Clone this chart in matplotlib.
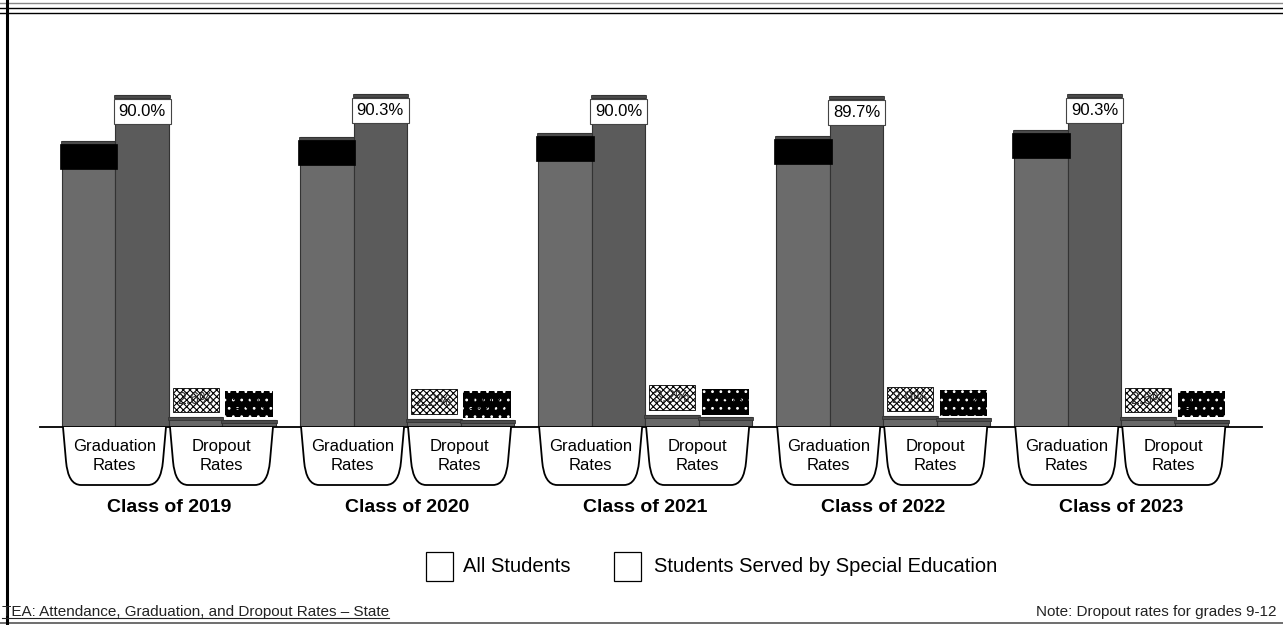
import matplotlib.pyplot as plt
import numpy as np
from matplotlib.path import Path
from matplotlib.patches import PathPatch, Rectangle
from matplotlib.lines import Line2D

plt.rcParams['font.family'] = ['Liberation Sans', 'DejaVu Sans']
plt.rcParams['hatch.linewidth'] = 0.8

# graduation / dropout rates, percent
classes = ["Class of 2019", "Class of 2020", "Class of 2021", "Class of 2022", "Class of 2023"]
rate_labels = ["Graduation\nRates", "Dropout\nRates"]
all_grad = [77.6, 78.6, 79.7, 78.9, 80.5]
sped_grad = [90.0, 90.3, 90.0, 89.7, 90.3]
all_drop = [2.6, 2.2, 3.2, 2.9, 2.6]
sped_drop = [2.0, 1.9, 2.6, 2.4, 2.0]
legend_labels = ["All Students", "Students Served by Special Education"]
source = "TEA: Attendance, Graduation, and Dropout Rates \u2013 State"
note = "Note: Dropout rates for grades 9-12"

W, H = 1283, 625
fig = plt.figure(figsize=(W / 100, H / 100), dpi=100)
ax = fig.add_axes([40 / W, 198 / H, 1222 / W, 369 / H])

ppx = 53.5   # pixels per bar width
ppy = 3.69   # pixels per percent
gap = 4.45   # distance between class groups
base = np.arange(len(classes)) * gap

ax.set_xlim(-0.911, -0.911 + 1222 / ppx)
ax.set_ylim(0, 100)
for s in ["top", "right", "left"]:
    ax.spines[s].set_visible(False)
ax.spines["bottom"].set_linewidth(1.3)
ax.set_xticks([])
ax.set_yticks([])

series = [
    (base, all_grad, "#6b6b6b"),
    (base + 1, sped_grad, "#5b5b5b"),
    (base + 2, all_drop, "#686868"),
    (base + 3, sped_drop, "#5e5e5e"),
]
cap = 3 / ppy
for xs, vals, col in series:
    vals = np.array(vals)
    ax.bar(xs, vals, width=1, color=col, edgecolor="#333333", lw=0.8, zorder=2)
    ax.bar(xs, cap, bottom=vals - cap, width=1 + 2 / ppx, color="#4a4a4a",
           edgecolor="#333333", lw=0.6, zorder=2)

# graduation labels sit inside the top of the bars
for x, v in zip(base, all_grad):
    ax.annotate(f"{v:.1f}%", xy=(x, v), xytext=(0, -8), textcoords="offset pixels",
                ha="center", va="top", fontsize=12, color="black", zorder=4,
                bbox=dict(boxstyle="square,pad=0.3", fc="black", ec="black", lw=0.5))
for x, v in zip(base + 1, sped_grad):
    ax.annotate(f"{v:.1f}%", xy=(x, v), xytext=(0, -9), textcoords="offset pixels",
                ha="center", va="top", fontsize=12, color="black", zorder=4,
                bbox=dict(boxstyle="square,pad=0.3", fc="white", ec="#444444", lw=0.8))

# dropout labels sit above the bars
for x, v in zip(base + 2, all_drop):
    ax.annotate(f"{v:.1f}%", xy=(x, v), xytext=(0, 10), textcoords="offset pixels",
                ha="center", va="bottom", fontsize=11.5, color="#333333", zorder=4,
                bbox=dict(boxstyle="square,pad=0.3", fc="white", ec="black",
                          hatch="xxxxx", lw=0.6))
for x, v in zip(base + 3, sped_drop):
    ax.annotate(f"{v:.1f}%", xy=(x, v), xytext=(0, 8), textcoords="offset pixels",
                ha="center", va="bottom", fontsize=11.5, color="black", zorder=4,
                bbox=dict(boxstyle="square,pad=0.35", fc="black", ec="white",
                          hatch="..", lw=0))


def tab(x_left, x_right):
    # bucket-shaped label holder hanging under the axis
    sx, sy = 1 / ppx, 1 / ppy
    w = x_right - x_left
    depth = 58 * sy
    verts = [
        (x_left, 0),
        (x_left + 3 * sx, -34 * sy),
        (x_left + 5 * sx, -depth),
        (x_left + 18 * sx, -depth),
        (x_left + w - 18 * sx, -depth),
        (x_left + w - 5 * sx, -depth),
        (x_left + w - 3 * sx, -34 * sy),
        (x_right, 0),
    ]
    codes = [Path.MOVETO, Path.LINETO, Path.CURVE3, Path.CURVE3,
             Path.LINETO, Path.CURVE3, Path.CURVE3, Path.LINETO]
    ax.add_patch(PathPatch(Path(verts, codes), fc="white", ec="black", lw=1.3,
                           clip_on=False, zorder=3))


for i, x in enumerate(base):
    for k in range(2):
        left = x + 2 * k - 0.5
        tab(left + 1 / ppx, left + 2 - 3 / ppx)
        ax.text(left + 1 - 1 / ppx, -29 / ppy, rate_labels[k], ha="center", va="center",
                fontsize=12, linespacing=1.35, clip_on=False, zorder=4)
    ax.text(x + 1.5, -80 / ppy, classes[i], ha="center", va="center",
            fontsize=14, fontweight="bold", clip_on=False)

# legend
for lx, tx, lab in [(426, 463, legend_labels[0]), (614, 654, legend_labels[1])]:
    fig.add_artist(Rectangle((lx / W, 1 - 581 / H), 27 / W, 29 / H,
                             transform=fig.transFigure, fc="white", ec="black", lw=0.9))
    fig.text(tx / W, 1 - 566 / H, lab, ha="left", va="center", fontsize=14.5)

# frame lines
for y, col, lw in [(3, "#888888", 1.0), (8, "black", 1.0), (13, "black", 1.0), (623, "#555555", 1.2)]:
    fig.add_artist(Line2D([0, 1], [1 - y / H] * 2, transform=fig.transFigure,
                          color=col, lw=lw))
fig.add_artist(Line2D([6.5 / W] * 2, [0, 1], transform=fig.transFigure,
                      color="black", lw=2.2))

src = fig.text(2 / W, 1 - 612 / H, source, ha="left", va="center", fontsize=11,
               color="#222222")
fig.text(1277 / W, 1 - 612 / H, note, ha="right", va="center", fontsize=11,
         color="#222222")
fig.canvas.draw()
bb = src.get_window_extent()
fig.add_artist(Line2D([bb.x0 / W, bb.x1 / W], [(bb.y0 + 1) / H] * 2,
                      transform=fig.transFigure, color="#222222", lw=0.8))

fig.savefig("out.png", dpi=100)
